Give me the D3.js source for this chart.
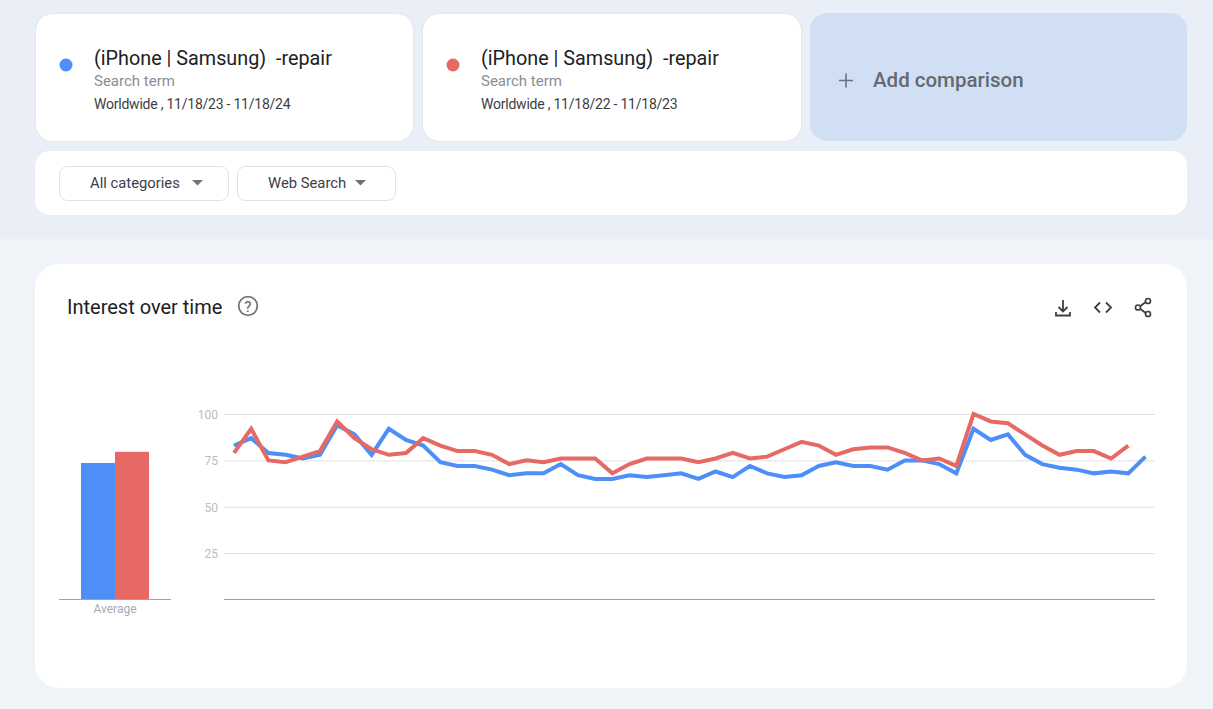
<!DOCTYPE html>
<html lang="en">
<head>
<meta charset="UTF-8">
<script src="https://d3js.org/d3.v7.min.js"></script>
<title>Interest over time</title>
<style>
    html, body { margin: 0; padding: 0; background: #f0f4f9; overflow: hidden; }
    text { font-family: Roboto, "Open Sans", sans-serif; }
</style>
</head>
<body>
<div id="chart"></div>
<script>
const yTicks = [25, 50, 75, 100]
const seriesColors = ["#4d8ef7", "#e66a63"]
const term = "(iPhone | Samsung)  -repair"
const ranges = ["Worldwide , 11/18/23 - 11/18/24", "Worldwide , 11/18/22 - 11/18/23"]
const filters = ["All categories", "Web Search"]
const averages = [73.6, 79.6]

// weekly values
const blueValues = [83, 87, 79, 78, 76, 78, 94, 89, 78, 92, 86, 83, 74, 72, 72, 70, 67, 68, 68, 73, 67, 65, 65, 67, 66, 67, 68, 65, 69, 66, 72, 68, 66, 67, 72, 74, 72, 72, 70, 75, 75, 73, 68, 92, 86, 89, 78, 73, 71, 70, 68, 69, 68, 77]
const redValues = [79, 92, 75, 74, 77, 80, 96, 87, 81, 78, 79, 87, 83, 80, 80, 78, 73, 75, 74, 76, 76, 76, 68, 73, 76, 76, 76, 74, 76, 79, 76, 77, 81, 85, 83, 78, 81, 82, 82, 79, 75, 76, 72, 100, 96, 95, 89, 83, 78, 80, 80, 76, 83]

const svg = d3.select("#chart").append("svg")
    .attr("width", 1213)
    .attr("height", 709)
    .style("display", "block")

// page bands
svg.append("rect").attr("width", 1213).attr("height", 239).attr("fill", "#e9eef7")
svg.append("rect").attr("y", 239).attr("width", 1213).attr("height", 470).attr("fill", "#f0f4f9")

// term cards
function termCard(x, w, color, range) {
    svg.append("rect").attr("x", x + 0.5).attr("y", 13.5).attr("width", w).attr("height", 128).attr("rx", 17)
        .attr("fill", "white").attr("stroke", "#e3e6ea")
    svg.append("circle").attr("cx", x + 31).attr("cy", 65).attr("r", 6.5).attr("fill", color)
    svg.append("text").attr("x", x + 59).attr("y", 65).attr("font-size", 19.8).attr("fill", "#202124")
        .attr("xml:space", "preserve").style("white-space", "pre").text(term)
    svg.append("text").attr("x", x + 59).attr("y", 86).attr("font-size", 15).attr("fill", "#8a8e93").text("Search term")
    svg.append("text").attr("x", x + 59).attr("y", 109).attr("font-size", 14).attr("letter-spacing", -0.23).attr("fill", "#3c4043").text(range)
}
termCard(35, 378, seriesColors[0], ranges[0])
termCard(422, 379, seriesColors[1], ranges[1])

// add comparison
svg.append("rect").attr("x", 810).attr("y", 13).attr("width", 377).attr("height", 128).attr("rx", 17).attr("fill", "#d1dff5")
svg.append("path").attr("d", "M839 80.5H853M846 73.5V87.5").attr("stroke", "#6b7278").attr("stroke-width", 1.6)
svg.append("text").attr("x", 873).attr("y", 87).attr("font-size", 20.5).attr("font-weight", 500).attr("fill", "#64696e").text("Add comparison")

// filter bar
svg.append("rect").attr("x", 35).attr("y", 151).attr("width", 1152).attr("height", 64).attr("rx", 15).attr("fill", "white")
const filterBoxes = [[59, 169, 90, 192], [237, 158, 268, 355]]
filters.forEach((f, i) => {
    const [x, w, tx, ax] = filterBoxes[i]
    svg.append("rect").attr("x", x + 0.5).attr("y", 166.5).attr("width", w).attr("height", 34).attr("rx", 8)
        .attr("fill", "white").attr("stroke", "#dfe1e5")
    svg.append("text").attr("x", tx).attr("y", 188).attr("font-size", 14.8).attr("fill", "#3c4043").text(f)
    svg.append("path").attr("d", `M${ax} 180h11l-5.5 5.5z`).attr("fill", "#6f7377")
})

// main card
svg.append("rect").attr("x", 35).attr("y", 264).attr("width", 1152).attr("height", 424).attr("rx", 24).attr("fill", "white")
svg.append("text").attr("x", 67).attr("y", 314).attr("font-size", 20).attr("fill", "#202124").text("Interest over time")

// help icon
svg.append("circle").attr("cx", 248).attr("cy", 306).attr("r", 9.3).attr("fill", "none").attr("stroke", "#70757a").attr("stroke-width", 1.8)
svg.append("text").attr("x", 248).attr("y", 311.5).attr("font-size", 15).attr("font-weight", 500).attr("text-anchor", "middle").attr("fill", "#70757a").text("?")

// download, embed, share icons
const iconStroke = { fill: "none", stroke: "#3c4043", "stroke-width": 1.8 }
const icon = d => {
    const p = svg.append("path").attr("d", d)
    Object.entries(iconStroke).forEach(([k, v]) => p.attr(k, v))
}
icon("M1063 300V311M1058.5 307L1063 311.5L1067.5 307M1056 312V315.5H1070V312")
icon("M1100 302.5L1095 307.5L1100 312.5M1106 302.5L1111 307.5L1106 312.5")
icon("M1147 301L1138.5 307.5L1147 314")
;[[1148, 301], [1138, 307.5], [1148, 314]].forEach(([cx, cy]) => {
    svg.append("circle").attr("cx", cx).attr("cy", cy).attr("r", 2.5).attr("fill", "white").attr("stroke", "#3c4043").attr("stroke-width", 1.7)
})

// scales shared by both plots
const y = d3.scaleLinear().domain([0, 100]).range([599.5, 414])
const x = d3.scaleLinear().domain([0, blueValues.length - 1]).range([234, 1145.5])

// average bars
const band = d3.scaleBand().domain(d3.range(averages.length)).range([81, 149])
svg.selectAll("rect.avg").data(averages).enter().append("rect")
    .attr("class", "avg")
    .attr("x", (d, i) => band(i))
    .attr("width", band.bandwidth())
    .attr("y", d => y(d))
    .attr("height", d => y(0) - y(d))
    .attr("fill", (d, i) => seriesColors[i])
svg.append("line").attr("x1", 59).attr("x2", 171).attr("y1", y(0)).attr("y2", y(0)).attr("stroke", "#a3a3a3")
svg.append("text").attr("x", 115).attr("y", 613).attr("text-anchor", "middle").attr("font-size", 12).attr("fill", "#a8abae").text("Average")

// gridlines and tick labels
const axis = svg.append("g").attr("transform", "translate(224,0)")
    .call(d3.axisRight(y).tickValues(yTicks).tickSize(931).tickFormat(d3.format("d")))
axis.select(".domain").remove()
axis.selectAll(".tick line").attr("stroke", "#e0e0e0")
axis.selectAll(".tick text").attr("x", -6).attr("y", 0.5).attr("dy", "0.32em").attr("text-anchor", "end")
    .attr("font-size", 12).attr("fill", "#bcbcbc")
svg.append("line").attr("x1", 224).attr("x2", 1155).attr("y1", y(0)).attr("y2", y(0)).attr("stroke", "#9e9e9e")

// lines
const line = d3.line().x((d, i) => x(i)).y(d => y(d))
;[blueValues, redValues].forEach((values, i) => {
    svg.append("path").datum(values)
        .attr("d", line)
        .attr("fill", "none")
        .attr("stroke", seriesColors[i])
        .attr("stroke-width", 4)
        .attr("stroke-linejoin", "miter")
})
</script>
</body>
</html>
